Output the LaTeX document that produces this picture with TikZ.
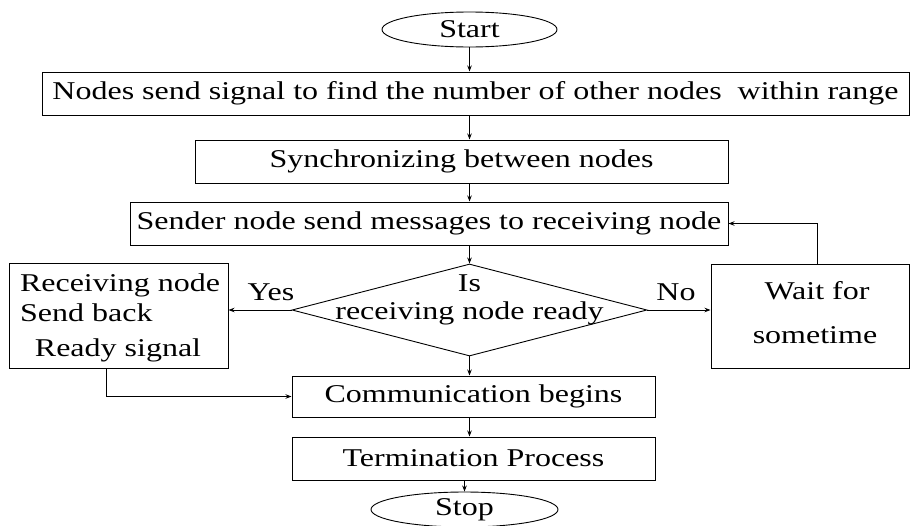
\documentclass[tikz,border=0pt]{standalone}
\usepackage{fontspec}
\setmainfont[FakeStretch=1.25]{Liberation Serif}
\usetikzlibrary{shapes.geometric,arrows.meta}
\begin{document}
\begin{tikzpicture}[x=1pt,y=-1pt,
  every node/.style={font=\fontsize{25.6pt}{30pt}\selectfont, inner sep=0pt},
  box/.style={draw, line width=1pt, rectangle},
  term/.style={draw, line width=0.9pt, ellipse},
  arr/.style={line width=0.9pt, -{Stealth[length=6pt,width=4.5pt]}}]
\useasboundingbox (0,0) rectangle (910,525);
\fill[white] (0,0) rectangle (910,525);

\node[term, minimum width=175pt, minimum height=35pt] (start) at (469.5,29.5) {Start};
\node[box, minimum width=867pt, minimum height=43pt] (n1) at (475.5,93.5) {Nodes send signal to find the number of other nodes\ \ within range};
\node[box, minimum width=533pt, minimum height=43pt] (n2) at (461.5,161.5) {Synchronizing between nodes};
\node[box, minimum width=598pt, minimum height=43pt] (n3) at (429,223.5) {Sender node send messages to receiving node};
\node[draw, line width=0.9pt, diamond, minimum width=355pt, minimum height=92pt] (dec) at (469.5,310) {};
\node (d1) at (469.5,283) {Is};
\node (d2) at (469.5,313) {receiving node ready};

\node[box, minimum width=219pt, minimum height=105pt] (L) at (118.5,315.5) {};
\node (l1) at (120,285) {Receiving node};
\node[anchor=west] (l2) at (20,313) {Send back};
\node (l3) at (118,350) {Ready signal};

\node[box, minimum width=198pt, minimum height=104pt] (W) at (810,316) {};
\node (w1) at (817,291) {Wait for};
\node (w2) at (815,335) {sometime};

\node[box, minimum width=363pt, minimum height=41pt] (comm) at (473.5,396.5) {Communication begins};
\node[box, minimum width=363pt, minimum height=43pt] (trm) at (473.5,458.5) {Termination Process};
\node[term, minimum width=187pt, minimum height=35pt] (stop) at (464.5,509.5) {Stop};

\node (yes) at (271,292) {Yes};
\node (no) at (676,292) {No};

\coordinate (lb) at (106,368);

\draw[arr] (start.south) -- (start.south |- n1.north);
\draw[arr] (n1.south -| dec.north) -- (n2.north -| dec.north);
\draw[arr] (n2.south -| dec.north) -- (n3.north -| dec.north);
\draw[arr] (n3.south -| dec.north) -- (dec.north);
\draw[arr] (dec.west) -- (dec.west -| L.east);
\draw[arr] (dec.east) -- (dec.east -| W.west);
\draw[arr] (W.north -| w1) |- (n3.east);
\draw[arr] (dec.south) -- (comm.north -| dec.south);
\draw[arr] (lb) |- (comm.west);
\draw[arr] (comm.south -| dec.south) -- (trm.north -| dec.south);
\draw[arr] (trm.south -| stop.north) -- (stop.north);
\end{tikzpicture}
\end{document}
